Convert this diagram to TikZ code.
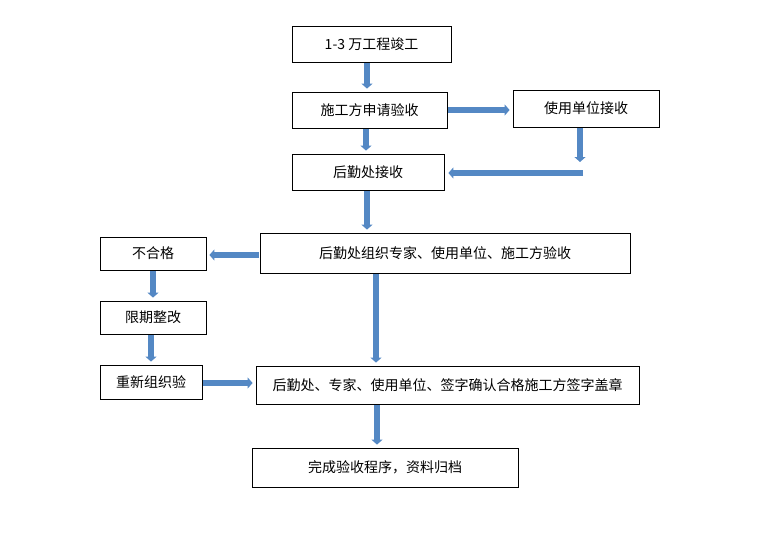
\documentclass[tikz,border=0pt]{standalone}
\usepackage{fontspec}
\setmainfont{Noto Sans CJK SC}
\usetikzlibrary{arrows.meta}
\definecolor{flowblue}{RGB}{84,136,196}

\begin{document}
\begin{tikzpicture}[x=1pt,y=-1pt,
    box/.style={draw,line width=0.8pt,inner sep=0pt,font=\fontsize{14}{16}\selectfont},
    flow/.style={draw=flowblue,line width=5.5pt,-{Triangle[length=5pt,width=11pt]},shorten <=1pt,shorten >=3pt}]
  \useasboundingbox (0,0) rectangle (767,546);
  % boxes of the main column
  \node[box,minimum width=159pt,minimum height=36pt] (finish) at (371.5,44) {1-3 万工程竣工};
  \node[box,minimum width=155pt,minimum height=36pt] (apply) at (369.5,110) {施工方申请验收};
  \node[box,minimum width=146pt,minimum height=37pt] (user) at (586,108.5) {使用单位接收};
  \node[box,minimum width=152pt,minimum height=36pt] (rear) at (368,172) {后勤处接收};
  \node[box,minimum width=370pt,minimum height=40pt] (check) at (445,253) {后勤处组织专家、使用单位、施工方验收};
  \node[box,minimum width=383pt,minimum height=38pt] (sign) at (447.5,385) {后勤处、专家、使用单位、签字确认合格施工方签字盖章};
  \node[box,minimum width=266pt,minimum height=39pt] (archive) at (385,467.5) {完成验收程序，资料归档};
  % boxes on the left
  \node[box,minimum width=106pt,minimum height=33pt] (fail) at (153,253.5) {不合格};
  \node[box,minimum width=106pt,minimum height=33pt] (fix) at (153,317.5) {限期整改};
  \node[box,minimum width=102pt,minimum height=34pt] (redo) at (151,382) {重新组织验};
  % arrows
  \draw[flow] (finish.south -| 367,0) -- (apply.north -| 367,0);
  \draw[flow] (apply.east) -- (apply.east -| user.west);
  \draw[flow] (apply.south -| 366,0) -- (rear.north -| 366,0);
  \coordinate (down) at (580,165);
  \draw[flow] (user.south -| down) -- (down);
  \coordinate (back) at (584,173);
  \draw[flow,shorten >=4pt] (back) -- (back -| rear.east);
  \draw[flow] (rear.south -| 367,0) -- (check.north -| 367,0);
  \draw[flow] (check.west |- 0,255) -- (fail.east |- 0,255);
  \draw[flow] (check.south -| 376,0) -- (sign.north -| 376,0);
  \draw[flow] (fail.south) -- (fix.north);
  \draw[flow] (fix.south -| 151,0) -- (redo.north -| 151,0);
  \draw[flow] (redo.east |- 0,383) -- (sign.west |- 0,383);
  \draw[flow] (sign.south -| 377,0) -- (archive.north -| 377,0);
\end{tikzpicture}
\end{document}
